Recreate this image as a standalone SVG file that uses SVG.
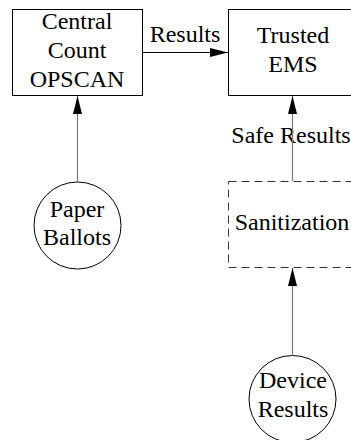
<svg xmlns="http://www.w3.org/2000/svg" width="351" height="440" viewBox="0 0 351 440">
<style>
text{font-family:"Liberation Serif","Times New Roman",serif;font-size:24px;fill:#000;text-anchor:middle}
.box{fill:#fff;stroke:#000;stroke-width:1}
.dash{fill:#fff;stroke:#333;stroke-width:1;stroke-dasharray:8 5}
.circ{fill:#fff;stroke:#000;stroke-width:1}
.edge{stroke:#777;stroke-width:1.2;fill:none}
.edgeb{stroke:#000;stroke-width:1.2;fill:none}
</style>
<defs>
<marker id="ah" markerWidth="18" markerHeight="9" refX="18" refY="4.5" orient="auto" markerUnits="userSpaceOnUse">
<path d="M0,0 L18,4.5 L0,9 Z" fill="#000"/>
</marker>
</defs>
<rect width="351" height="440" fill="#fff"/>
<g id="central">
<rect class="box" x="12.5" y="9.5" width="130" height="86"/>
<text x="77" y="29">Central</text>
<text x="77" y="58">Count</text>
<text x="77" y="87">OPSCAN</text>
</g>
<g id="ems">
<rect class="box" x="228.5" y="9.5" width="130" height="86"/>
<text x="293" y="43">Trusted</text>
<text x="293" y="72">EMS</text>
</g>
<g id="sanitization">
<rect class="dash" x="228.5" y="181.5" width="130" height="86"/>
<text x="292" y="230">Sanitization</text>
</g>
<g id="paper">
<circle class="circ" cx="77.5" cy="225.5" r="43.5"/>
<text x="77" y="217">Paper</text>
<text x="77" y="245">Ballots</text>
</g>
<g id="device">
<circle class="circ" cx="292.5" cy="399" r="43.5"/>
<text x="293" y="388">Device</text>
<text x="293" y="417">Results</text>
</g>
<g id="connectors">
<text x="185" y="42">Results</text>
<text x="291" y="143">Safe Results</text>
<line class="edgeb" x1="142.5" y1="52.5" x2="228" y2="52.5" marker-end="url(#ah)"/>
<line class="edge" x1="77.5" y1="182" x2="77.5" y2="96" marker-end="url(#ah)"/>
<line class="edge" x1="292.5" y1="181" x2="292.5" y2="96" marker-end="url(#ah)"/>
<line class="edge" x1="292.5" y1="355.5" x2="292.5" y2="268" marker-end="url(#ah)"/>
</g>
</svg>
